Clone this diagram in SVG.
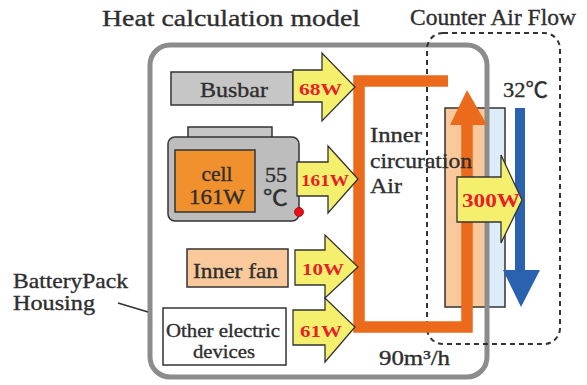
<svg xmlns="http://www.w3.org/2000/svg" width="587" height="385" viewBox="0 0 587 385">
<style>
text{font-family:"Liberation Serif","DejaVu Serif",serif;fill:#2e2e2e;stroke:#2e2e2e;stroke-width:0.35}
.t{font-size:21px}
.big{font-size:23px}
.cjk{font-family:"Liberation Serif","Noto Sans CJK JP",serif}
.red{font-weight:bold;font-size:17px;fill:#e8202a;stroke:none}
.box{stroke:#333;stroke-width:1.5}
.ya{fill:#f4f06e;stroke:#333;stroke-width:1.3;stroke-linejoin:miter}
</style>
<rect width="587" height="385" fill="#fff"/>

<g id="heat-exchanger">
<rect x="445" y="108" width="42" height="199" fill="#f9c99b" class="box"/>
<rect x="487" y="108" width="18" height="199" fill="#dcecf8" class="box"/>
</g>

<g id="housing">
<rect x="150" y="45" width="337" height="332" rx="20" fill="none" stroke="#8c8c8c" stroke-width="5"/>
<line x1="118" y1="303" x2="148" y2="312" stroke="#333" stroke-width="1.8"/>
<text class="t" x="13" y="288" textLength="115" lengthAdjust="spacingAndGlyphs">BatteryPack</text>
<text class="t" x="13" y="310" textLength="82" lengthAdjust="spacingAndGlyphs">Housing</text>
</g>

<g id="counter-air-region">
<rect x="427" y="33" width="133" height="311" rx="16" fill="none" stroke="#333" stroke-width="2" stroke-dasharray="5,4"/>
<text class="big" x="410" y="25" textLength="166" lengthAdjust="spacingAndGlyphs">Counter Air Flow</text>
</g>

<g id="title">
<text class="big" x="102" y="26" textLength="258" lengthAdjust="spacingAndGlyphs" style="font-size:24px">Heat calculation model</text>
</g>

<g id="connectors">
<path d="M448,81 H359 V327 H467 V124" fill="none" stroke="#ec6a1c" stroke-width="11.5" stroke-linejoin="miter"/>
<polygon points="450,125 487,125 467,90" fill="#ec6a1c"/>
<rect x="515" y="108" width="10" height="163" fill="#2a62b0"/>
<polygon points="503,270 540,270 521,307" fill="#2a62b0"/>
</g>

<g id="inner-air">
<text class="t" x="370" y="142" textLength="52" lengthAdjust="spacingAndGlyphs">Inner</text>
<text class="t" x="370" y="168" textLength="102" lengthAdjust="spacingAndGlyphs">circuration</text>
<text class="t" x="370" y="193" textLength="32" lengthAdjust="spacingAndGlyphs">Air</text>
<text class="t" x="379" y="365" textLength="71" lengthAdjust="spacingAndGlyphs">90m³/h</text>
<text class="t cjk" x="503" y="97" textLength="45" lengthAdjust="spacingAndGlyphs">32℃</text>
</g>

<g id="busbar">
<rect x="171" y="72" width="122" height="33" fill="#c6c6c6" class="box"/>
<text class="t" x="200" y="97" textLength="68" lengthAdjust="spacingAndGlyphs">Busbar</text>
</g>

<g id="cell">
<rect x="188" y="127" width="84" height="11" fill="#c6c6c6" class="box"/>
<rect x="168" y="137" width="131" height="84" rx="7" fill="#bdbdbd" class="box"/>
<rect x="175" y="150" width="80" height="62" fill="#f0912e" class="box"/>
<text class="t" x="201.5" y="181" textLength="31" lengthAdjust="spacingAndGlyphs">cell</text>
<text class="t" x="189" y="204" textLength="56" lengthAdjust="spacingAndGlyphs">161W</text>
<text class="t" x="265" y="182" textLength="22" lengthAdjust="spacingAndGlyphs">55</text>
<text class="t cjk" x="263" y="205" textLength="25" lengthAdjust="spacingAndGlyphs">℃</text>
<circle cx="299" cy="212" r="4.5" fill="#e8101a" stroke="#900" stroke-width="0.8"/>
</g>

<g id="inner-fan">
<rect x="187" y="249" width="101" height="38" fill="#f9c99b" class="box"/>
<text class="t" x="193" y="278" textLength="85" lengthAdjust="spacingAndGlyphs">Inner fan</text>
</g>

<g id="other-devices">
<rect x="163" y="308" width="123" height="57" fill="#fff" class="box"/>
<text class="t" x="166" y="337" textLength="114" lengthAdjust="spacingAndGlyphs" style="font-size:19px">Other electric</text>
<text class="t" x="193" y="358" textLength="62" lengthAdjust="spacingAndGlyphs" style="font-size:19px">devices</text>
</g>

<g id="heat-arrows">
<path class="ya" d="M293,70 H322 V53 L355,87 L322,121 V102 H293 Z"/>
<text class="red" x="299" y="95" textLength="43" lengthAdjust="spacingAndGlyphs">68W</text>
<path class="ya" d="M297,162 H328 V146 L358,179 L328,213 V196 H297 Z"/>
<text class="red" x="301" y="186" textLength="48" lengthAdjust="spacingAndGlyphs">161W</text>
<path class="ya" d="M295,250 H325 V235 L358,267 L325,298 V285 H295 Z"/>
<text class="red" x="302" y="275" textLength="42" lengthAdjust="spacingAndGlyphs">10W</text>
<path class="ya" d="M293,310 H325 V298 L355,327 L325,362 V345 H293 Z"/>
<text class="red" x="300" y="337" textLength="42" lengthAdjust="spacingAndGlyphs">61W</text>
<path class="ya" d="M457,177 H501 V155 L522,200 L501,243 V222 H457 Z"/>
<text class="red" x="462" y="207" textLength="58" lengthAdjust="spacingAndGlyphs" style="font-size:19px">300W</text>
</g>
</svg>
